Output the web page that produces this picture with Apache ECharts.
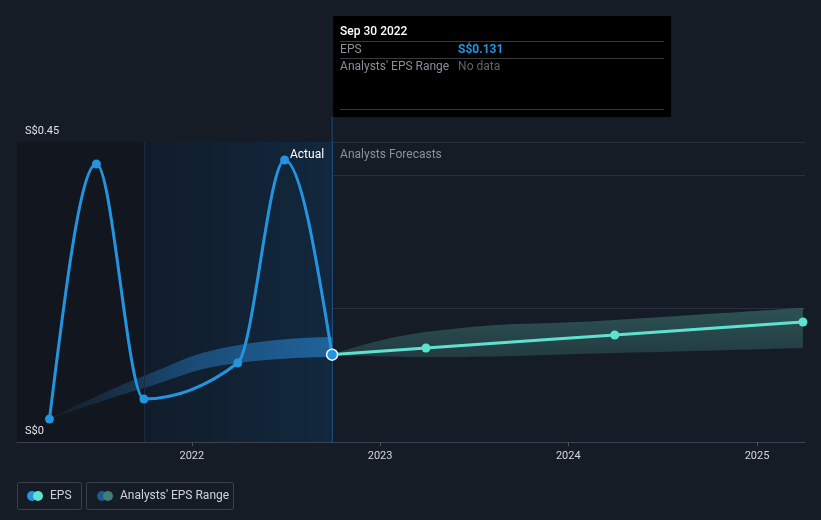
<!DOCTYPE html>
<html>
<head>
<meta charset="utf-8">
<script src="https://cdn.jsdelivr.net/npm/echarts@6/dist/echarts.min.js"></script>
<style>
  html, body { margin: 0; padding: 0; background: #161c26; }
  #main { width: 821px; height: 520px; }
</style>
</head>
<body>
<div id="main"></div>
<script>
// actual EPS (reported)
const actualDates = ['2021-03-31', '2021-06-30', '2021-09-30', '2022-03-31', '2022-06-30', '2022-09-30']
const actualEps = [0.0345, 0.417, 0.0645, 0.1185, 0.423, 0.131]

// past analysts range
const pastRangeDates = ['2021-03-31', '2021-09-30', '2022-03-31', '2022-09-30']
const pastRangeLow = [0.0345, 0.081, 0.1185, 0.1275]
const pastRangeHigh = [0.0345, 0.099, 0.145, 0.1575]

// forecast
const forecastDates = ['2022-09-30', '2023-03-31', '2024-03-31', '2025-03-31']
const forecastEps = [0.131, 0.141, 0.1605, 0.18]
const forecastLow = [0.131, 0.1275, 0.1335, 0.141]
const forecastHigh = [0.131, 0.165, 0.183, 0.201]

const yTicks = [0, 0.45]
const xMin = '2021-01-27'
const xMax = '2025-04-04'
const pastStart = '2021-09-30'
const lastActual = '2022-09-30'

const pairs = (xs, ys) => xs.map((x, i) => [x, ys[i]])
const diffs = (xs, lo, hi) => xs.map((x, i) => [x, +(hi[i] - lo[i]).toFixed(4)])

// monotone-x cubic path through pixel points
function monotonePath(pts) {
  const n = pts.length
  const t = new Array(n).fill(0)
  const sign = v => (v < 0 ? -1 : 1)
  for (let i = 1; i < n - 1; i++) {
    const h0 = pts[i][0] - pts[i - 1][0]
    const h1 = pts[i + 1][0] - pts[i][0]
    const s0 = (pts[i][1] - pts[i - 1][1]) / h0
    const s1 = (pts[i + 1][1] - pts[i][1]) / h1
    const p = (s0 * h1 + s1 * h0) / (h0 + h1)
    t[i] = (sign(s0) + sign(s1)) * Math.min(Math.abs(s0), Math.abs(s1), 0.5 * Math.abs(p)) || 0
  }
  const hs = pts[1][0] - pts[0][0]
  t[0] = (3 * (pts[1][1] - pts[0][1]) / hs - t[1]) / 2
  const he = pts[n - 1][0] - pts[n - 2][0]
  t[n - 1] = (3 * (pts[n - 1][1] - pts[n - 2][1]) / he - t[n - 2]) / 2
  let d = 'M' + pts[0][0] + ',' + pts[0][1]
  for (let i = 0; i < n - 1; i++) {
    const dx = (pts[i + 1][0] - pts[i][0]) / 3
    d += 'C' + (pts[i][0] + dx) + ',' + (pts[i][1] + dx * t[i]) + ',' +
      (pts[i + 1][0] - dx) + ',' + (pts[i + 1][1] - dx * t[i + 1]) + ',' +
      pts[i + 1][0] + ',' + pts[i + 1][1]
  }
  return d
}

function curveSeries(name, xs, ys, color, z) {
  return {
    name: name,
    type: 'custom',
    data: [0],
    z: z,
    silent: true,
    clip: true,
    renderItem: (params, api) => ({
      type: 'path',
      shape: { pathData: monotonePath(xs.map((x, i) => api.coord([x, ys[i]]))) },
      style: { stroke: color, lineWidth: 3, fill: 'none', lineJoin: 'round' }
    })
  }
}

const chart = echarts.init(document.getElementById('main'))
const font = 'Roboto, "Noto Sans", sans-serif'

const option = {
  backgroundColor: '#161c26',
  textStyle: { fontFamily: font },
  animation: false,
  grid: { left: 17, right: 16, top: 142, bottom: 78 },
  xAxis: {
    type: 'time',
    min: xMin,
    max: xMax,
    minInterval: 365 * 24 * 3600 * 1000,
    maxInterval: 366 * 24 * 3600 * 1000,
    axisLine: { lineStyle: { color: '#3c4350', width: 1 } },
    axisTick: { show: true, length: 4, lineStyle: { color: '#4a5160' } },
    axisLabel: { color: '#d4d7dc', fontSize: 11, margin: 9, formatter: '{yyyy}' },
    splitLine: { show: false }
  },
  yAxis: {
    type: 'value',
    min: 0,
    max: 0.45,
    interval: 0.2,
    axisLine: { show: false },
    axisTick: { show: false },
    splitLine: { lineStyle: { color: '#2a303b', width: 1 } },
    axisLabel: {
      inside: true,
      showMinLabel: true,
      showMaxLabel: true,
      hideOverlap: false,
      margin: 8,
      color: '#e2e4e8',
      fontSize: 11,
      verticalAlign: 'bottom',
      padding: [0, 0, 5, 0],
      formatter: v => (yTicks.includes(+v.toFixed(2)) && v > 0 ? 'S$' + (+v.toFixed(2)) : '')
    }
  },
  series: [
    {
      name: 'bg',
      type: 'line',
      data: [],
      z: 0,
      markArea: {
        silent: true,
        data: [
          [{ xAxis: xMin, itemStyle: { color: '#12171f' } }, { xAxis: pastStart }],
          [{
            xAxis: pastStart,
            itemStyle: {
              color: new echarts.graphic.LinearGradient(0, 0, 1, 0, [
                { offset: 0, color: '#101c2a' },
                { offset: 1, color: '#12283e' }
              ])
            }
          }, { xAxis: lastActual }]
        ]
      },
      markLine: {
        silent: true,
        symbol: 'none',
        label: { show: false },
        data: [
          { xAxis: pastStart, lineStyle: { color: '#1a2d40', width: 1, type: 'solid' } },
          { xAxis: lastActual, lineStyle: { color: '#1f4e78', width: 1, type: 'solid' } }
        ]
      }
    },
    {
      name: 'pastLow',
      type: 'line',
      stack: 'past',
      smooth: true,
      symbol: 'none',
      z: 1,
      lineStyle: { opacity: 0 },
      data: pairs(pastRangeDates, pastRangeLow)
    },
    {
      name: 'pastRange',
      type: 'line',
      stack: 'past',
      smooth: true,
      symbol: 'none',
      z: 1,
      lineStyle: { opacity: 0 },
      areaStyle: {
        opacity: 1,
        color: new echarts.graphic.LinearGradient(0, 0, 1, 0, [
          { offset: 0, color: 'rgba(36,118,185,0.05)' },
          { offset: 0.5, color: 'rgba(36,118,185,0.5)' },
          { offset: 1, color: 'rgba(36,118,185,0.75)' }
        ])
      },
      data: diffs(pastRangeDates, pastRangeLow, pastRangeHigh)
    },
    {
      name: 'fcLow',
      type: 'line',
      stack: 'fc',
      smooth: true,
      symbol: 'none',
      z: 1,
      lineStyle: { opacity: 0 },
      data: pairs(forecastDates, forecastLow)
    },
    {
      name: 'fcRange',
      type: 'line',
      stack: 'fc',
      smooth: true,
      symbol: 'none',
      z: 1,
      lineStyle: { opacity: 0 },
      areaStyle: {
        opacity: 1,
        color: new echarts.graphic.LinearGradient(0, 0, 0, 1, [
          { offset: 0, color: 'rgba(80,170,160,0.38)' },
          { offset: 1, color: 'rgba(80,170,160,0.22)' }
        ])
      },
      data: diffs(forecastDates, forecastLow, forecastHigh)
    },
    curveSeries('forecastCurve', forecastDates, forecastEps, '#5ee2cf', 3),
    {
      name: 'forecast',
      type: 'line',
      symbol: 'circle',
      symbolSize: 9,
      showAllSymbol: true,
      color: '#5ee2cf',
      lineStyle: { width: 0, opacity: 0 },
      itemStyle: { color: '#5ee2cf' },
      data: pairs(forecastDates, forecastEps),
      z: 4
    },
    curveSeries('epsCurve', actualDates, actualEps, '#2394df', 5),
    {
      name: 'EPS',
      type: 'line',
      symbol: 'circle',
      symbolSize: 9,
      showAllSymbol: true,
      color: '#2394df',
      lineStyle: { width: 0, opacity: 0 },
      itemStyle: { color: '#2394df' },
      data: pairs(actualDates, actualEps).map((d, i) =>
        i === actualDates.length - 1
          ? { value: d, symbolSize: 11, itemStyle: { color: '#2394df', borderColor: '#ffffff', borderWidth: 1.5 } }
          : d
      ),
      z: 6
    }
  ]
}

chart.setOption(option)

// overlay parts placed from the axis position of the last actual point
const xLast = chart.convertToPixel({ xAxisIndex: 0 }, lastActual)
const yTop = chart.convertToPixel({ yAxisIndex: 0 }, 0.45)
const yZero = chart.convertToPixel({ yAxisIndex: 0 }, 0)

const g = (o) => Object.assign({ z: 100 }, o)
chart.setOption({
  graphic: [
    // zero label (axis hides the min label near the x axis)
    g({ type: 'text', x: 25, y: yZero - 5, style: { text: 'S$' + yTicks[0], fill: '#e2e4e8', font: '11px ' + font, verticalAlign: 'bottom' } }),
    g({ type: 'line', shape: { x1: xLast, y1: 117, x2: xLast, y2: yTop }, style: { stroke: '#1f4e78', lineWidth: 1 }, silent: true }),
    g({ type: 'text', x: xLast - 8, y: 155, style: { text: 'Actual', fill: '#ffffff', font: '12px ' + font, align: 'right', verticalAlign: 'middle' } }),
    g({ type: 'text', x: xLast + 8, y: 155, style: { text: 'Analysts Forecasts', fill: '#8b919a', font: '12px ' + font, align: 'left', verticalAlign: 'middle' } }),
    // tooltip box
    g({ type: 'rect', shape: { x: xLast + 1, y: 16, width: 338, height: 101 }, style: { fill: '#000000' } }),
    g({ type: 'text', x: xLast + 8, y: 32, style: { text: 'Sep 30 2022', fill: '#ffffff', font: '500 12px ' + font, verticalAlign: 'middle' } }),
    g({ type: 'line', shape: { x1: xLast + 8, y1: 41.5, x2: xLast + 332, y2: 41.5 }, style: { stroke: '#3a3a3a', lineWidth: 1 } }),
    g({ type: 'text', x: xLast + 8, y: 50, style: { text: 'EPS', fill: '#8a8f97', font: '12px ' + font, verticalAlign: 'middle' } }),
    g({ type: 'text', x: xLast + 126, y: 50, style: { text: 'S$0.131', fill: '#2394df', font: 'bold 12px ' + font, verticalAlign: 'middle' } }),
    g({ type: 'line', shape: { x1: xLast + 8, y1: 58.5, x2: xLast + 332, y2: 58.5 }, style: { stroke: '#3a3a3a', lineWidth: 1 } }),
    g({ type: 'text', x: xLast + 8, y: 67, style: { text: "Analysts' EPS Range", fill: '#8a8f97', font: '12px ' + font, verticalAlign: 'middle' } }),
    g({ type: 'text', x: xLast + 126, y: 67, style: { text: 'No data', fill: '#5f646c', font: '12px ' + font, verticalAlign: 'middle' } }),
    g({ type: 'line', shape: { x1: xLast + 8, y1: 109.5, x2: xLast + 332, y2: 109.5 }, style: { stroke: '#3a3a3a', lineWidth: 1 } }),
    // legend
    g({ type: 'rect', shape: { x: 17.5, y: 482.5, width: 64, height: 27, r: 2 }, style: { fill: 'none', stroke: '#3b414c', lineWidth: 1 } }),
    g({ type: 'circle', shape: { cx: 32, cy: 496, r: 5 }, style: { fill: '#2394df' } }),
    g({ type: 'circle', shape: { cx: 38, cy: 496, r: 5 }, style: { fill: '#5ee2cf' } }),
    g({ type: 'text', x: 50, y: 496, style: { text: 'EPS', fill: '#cfd3d9', font: '12px ' + font, verticalAlign: 'middle' } }),
    g({ type: 'rect', shape: { x: 86.5, y: 482.5, width: 147, height: 27, r: 2 }, style: { fill: 'none', stroke: '#3b414c', lineWidth: 1 } }),
    g({ type: 'circle', shape: { cx: 102, cy: 496, r: 5 }, style: { fill: '#1f5a8a' } }),
    g({ type: 'circle', shape: { cx: 108, cy: 496, r: 5 }, style: { fill: '#3e8079' } }),
    g({ type: 'text', x: 120, y: 496, style: { text: "Analysts' EPS Range", fill: '#cfd3d9', font: '12px ' + font, verticalAlign: 'middle' } })
  ]
})
</script>
</body>
</html>
